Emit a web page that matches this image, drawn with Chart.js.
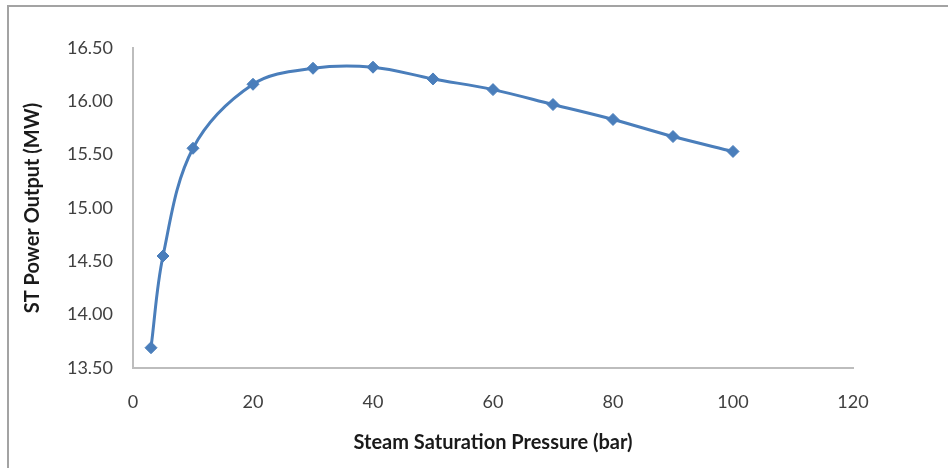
<!DOCTYPE html>
<html>
<head>
<meta charset="utf-8">
<title>ST Power Output vs Steam Saturation Pressure</title>
<script src="https://cdn.jsdelivr.net/npm/chart.js@4/dist/chart.umd.min.js"></script>
<style>
    html, body { margin: 0; padding: 0; background: #ffffff; overflow: hidden; }
    #wrap { position: relative; width: 948px; height: 468px; }
    #frame
    {
        position: absolute; left: 7px; top: 5px; width: 1000px; height: 600px;
        border-left: 2px solid #a3a3a3; border-top: 2px solid #a3a3a3;
    }
    #chart { position: absolute; left: 0; top: 0; }
</style>
</head>
<body>
<div id="wrap">
    <div id="frame"></div>
    <canvas id="chart" width="948" height="468"></canvas>
</div>
<script>
// 데이터
const pressure = [3, 5, 10, 20, 30, 40, 50, 60, 70, 80, 90, 100];
const power = [13.69, 14.55, 15.56, 16.16, 16.31, 16.32, 16.21, 16.11, 15.97, 15.83, 15.67, 15.53];

const xTicks = [0, 20, 40, 60, 80, 100, 120];
const yTicks = [13.5, 14.0, 14.5, 15.0, 15.5, 16.0, 16.5];

const xTitle = "Steam Saturation Pressure (bar)";
const yTitle = "ST Power Output (MW)";

document.addEventListener("DOMContentLoaded", function()
{
    const fontName = "Lato, 'Liberation Sans', sans-serif";
    const lineBlue = "#4a7ebb";

    const points = pressure.map(function(p, i)
    {
        return { x: p, y: power[i] };
    });

    const ctx = document.getElementById("chart").getContext("2d");

    new Chart(ctx,
    {
        type: "line",
        data:
        {
            datasets: [
                {
                    label: yTitle,
                    data: points,
                    borderColor: lineBlue,
                    backgroundColor: lineBlue,
                    borderWidth: 3,
                    tension: 0.35,
                    pointStyle: "rectRot",
                    pointRadius: 6,
                    pointBorderWidth: 1,
                    pointBackgroundColor: lineBlue,
                    pointBorderColor: lineBlue,
                    fill: false
                }
            ]
        },
        options:
        {
            responsive: false,
            animation: false,
            layout: { padding: { left: 0, top: 48, right: 95, bottom: 0 } },
            plugins:
            {
                legend: { display: false },
                tooltip: { enabled: false },
                title: { display: false }
            },
            scales:
            {
                x:
                {
                    type: "linear",
                    min: xTicks[0],
                    max: xTicks[xTicks.length - 1],
                    afterFit: function(scale) { scale.height = 100; },
                    afterBuildTicks: function(scale)
                    {
                        scale.ticks = xTicks.map(function(v) { return { value: v }; });
                    },
                    grid: { display: false, drawTicks: false, tickLength: 0 },
                    border: { display: true, color: "#bdbdbd", width: 2 },
                    ticks:
                    {
                        padding: 23,
                        color: "#404040",
                        font: { family: fontName, size: 18 },
                        maxRotation: 0,
                        callback: function(value) { return String(value); }
                    },
                    title:
                    {
                        display: true,
                        text: xTitle,
                        color: "#1a1a1a",
                        font: { family: fontName, size: 20, weight: "bold" },
                        padding: { top: 0, bottom: 13 }
                    }
                },
                y:
                {
                    type: "linear",
                    min: yTicks[0],
                    max: yTicks[yTicks.length - 1],
                    afterFit: function(scale) { scale.width = 133; },
                    afterBuildTicks: function(scale)
                    {
                        scale.ticks = yTicks.map(function(v) { return { value: v }; });
                    },
                    grid: { display: false, drawTicks: false, tickLength: 0 },
                    border: { display: true, color: "#bdbdbd", width: 2 },
                    ticks:
                    {
                        padding: 20,
                        color: "#404040",
                        font: { family: fontName, size: 18 },
                        callback: function(value) { return Number(value).toFixed(2); }
                    },
                    title:
                    {
                        display: true,
                        text: yTitle,
                        color: "#1a1a1a",
                        font: { family: fontName, size: 20, weight: "bold" },
                        padding: { top: 21, bottom: 0 }
                    }
                }
            }
        }
    });
});
</script>
</body>
</html>
